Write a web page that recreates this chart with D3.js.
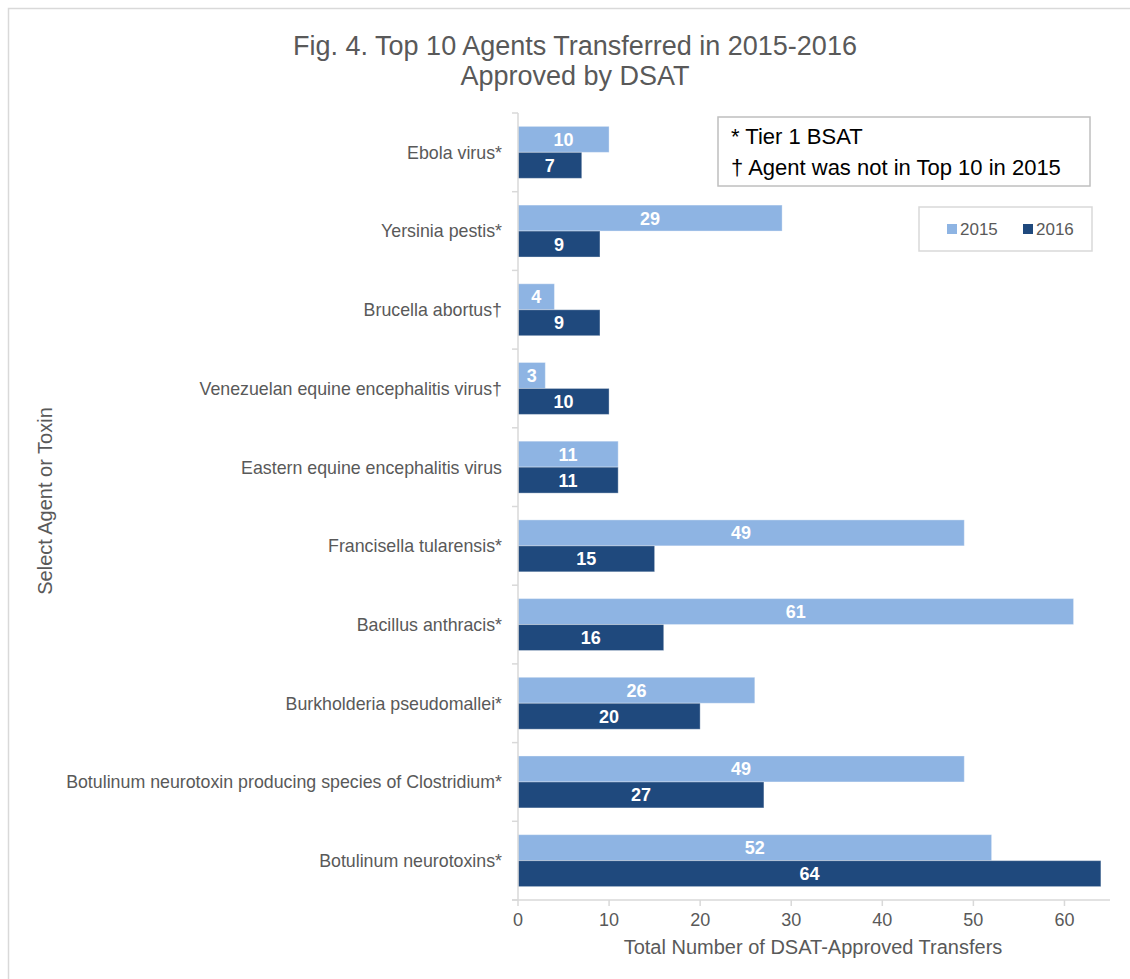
<!DOCTYPE html>
<html>
<head>
<meta charset="utf-8">
<script src="https://cdn.jsdelivr.net/npm/d3@7"></script>
<style>
    body { margin: 0; background: #fff; }
    svg text { font-family: "Liberation Sans", Arial, sans-serif; }
</style>
</head>
<body>
<svg id="chart" width="1130" height="979"></svg>
<script>
// agents, top to bottom
var agents = [
    'Ebola virus*',
    'Yersinia pestis*',
    'Brucella abortus\u2020',
    'Venezuelan equine encephalitis virus\u2020',
    'Eastern equine encephalitis virus',
    'Francisella tularensis*',
    'Bacillus anthracis*',
    'Burkholderia pseudomallei*',
    'Botulinum neurotoxin producing species of Clostridium*',
    'Botulinum neurotoxins*'
];
var years = ['2015', '2016'];
var values2015 = [10, 29, 4, 3, 11, 49, 61, 26, 49, 52];
var values2016 = [7, 9, 9, 10, 11, 15, 16, 20, 27, 64];
var xTicks = [0, 10, 20, 30, 40, 50, 60];
var notes = ['* Tier 1 BSAT', '\u2020 Agent was not in Top 10 in 2015'];

var colors = { '2015': '#8eb4e3', '2016': '#1f497d' };
var axisColor = '#d9d9d9',
    textColor = '#595959';

var svg = d3.select('#chart');

// outer frame of the chart area
svg.append('rect')
    .attr('x', 8.5).attr('y', 8.5)
    .attr('width', 1140).attr('height', 990)
    .attr('fill', 'none')
    .attr('stroke', '#d9d9d9')
    .attr('stroke-width', 1.5);

var plot = { left: 518, right: 1110, top: 113, bottom: 900 };

var x = d3.scaleLinear().domain([0, 65]).range([plot.left, plot.right]);
var y = d3.scaleBand().domain(agents).range([plot.top, plot.bottom])
    .paddingInner(0.34).paddingOuter(0.17);
var ySub = d3.scaleBand().domain(years).range([0, y.bandwidth()]);

// title
svg.append('text')
    .attr('text-anchor', 'middle')
    .attr('fill', textColor)
    .style('font-size', '27px')
    .selectAll('tspan')
    .data(['Fig. 4. Top 10 Agents Transferred in 2015-2016', 'Approved by DSAT'])
    .enter().append('tspan')
    .attr('x', 575)
    .attr('y', function(d, i) { return 55 + i * 30; })
    .text(function(d) { return d; });

// bars
var rows = agents.map(function(a, i) {
    return { agent: a, values: [
        { year: '2015', value: values2015[i] },
        { year: '2016', value: values2016[i] }
    ]};
});

var groups = svg.selectAll('.group').data(rows).enter().append('g')
    .attr('class', 'group')
    .attr('transform', function(d) { return 'translate(0,' + y(d.agent) + ')'; });

groups.selectAll('rect').data(function(d) { return d.values; }).enter().append('rect')
    .attr('x', x(0))
    .attr('y', function(d) { return ySub(d.year); })
    .attr('width', function(d) { return x(d.value) - x(0); })
    .attr('height', ySub.bandwidth())
    .attr('fill', function(d) { return colors[d.year]; })
    .attr('stroke', 'rgba(255,255,255,0.35)')
    .attr('stroke-width', 1);

groups.selectAll('.val').data(function(d) { return d.values; }).enter().append('text')
    .attr('class', 'val')
    .attr('x', function(d) { return (x(0) + x(d.value)) / 2; })
    .attr('y', function(d) { return ySub(d.year) + ySub.bandwidth() / 2; })
    .attr('dy', '0.36em')
    .attr('text-anchor', 'middle')
    .attr('fill', '#fff')
    .style('font-size', '18px')
    .style('font-weight', 'bold')
    .text(function(d) { return d.value; });

// y axis: line, ticks between categories, labels
svg.append('line')
    .attr('x1', plot.left).attr('x2', plot.left)
    .attr('y1', plot.top).attr('y2', plot.bottom)
    .attr('stroke', axisColor).attr('stroke-width', 1.5);

var step = y.step();
svg.selectAll('.ytick').data(d3.range(agents.length + 1)).enter().append('line')
    .attr('class', 'ytick')
    .attr('x1', plot.left - 6).attr('x2', plot.left)
    .attr('y1', function(i) { return plot.top + i * step; })
    .attr('y2', function(i) { return plot.top + i * step; })
    .attr('stroke', axisColor).attr('stroke-width', 1.5);

svg.selectAll('.ylabel').data(agents).enter().append('text')
    .attr('class', 'ylabel')
    .attr('x', 502)
    .attr('y', function(d) { return y(d) + y.bandwidth() / 2; })
    .attr('dy', '0.36em')
    .attr('text-anchor', 'end')
    .attr('fill', textColor)
    .style('font-size', '17.8px')
    .text(function(d) { return d; });

// x axis
svg.append('line')
    .attr('x1', plot.left - 6).attr('x2', plot.right)
    .attr('y1', plot.bottom).attr('y2', plot.bottom)
    .attr('stroke', axisColor).attr('stroke-width', 1.5);

svg.selectAll('.xtick').data(xTicks).enter().append('line')
    .attr('class', 'xtick')
    .attr('x1', function(d) { return x(d); }).attr('x2', function(d) { return x(d); })
    .attr('y1', plot.bottom).attr('y2', plot.bottom + 6)
    .attr('stroke', axisColor).attr('stroke-width', 1.5);

svg.selectAll('.xlabel').data(xTicks).enter().append('text')
    .attr('class', 'xlabel')
    .attr('x', function(d) { return x(d); })
    .attr('y', 926)
    .attr('text-anchor', 'middle')
    .attr('fill', textColor)
    .style('font-size', '18px')
    .text(function(d) { return d; });

// axis titles
svg.append('text')
    .attr('x', 813).attr('y', 954)
    .attr('text-anchor', 'middle')
    .attr('fill', textColor)
    .style('font-size', '20px')
    .text('Total Number of DSAT-Approved Transfers');

svg.append('text')
    .attr('transform', 'translate(52,501) rotate(-90)')
    .attr('text-anchor', 'middle')
    .attr('fill', textColor)
    .style('font-size', '20px')
    .text('Select Agent or Toxin');

// notes box
svg.append('rect')
    .attr('x', 718).attr('y', 117)
    .attr('width', 372).attr('height', 69)
    .attr('fill', '#fff')
    .attr('stroke', '#bfbfbf').attr('stroke-width', 1.5);

svg.selectAll('.note').data(notes).enter().append('text')
    .attr('class', 'note')
    .attr('x', 731)
    .attr('y', function(d, i) { return 144 + i * 31; })
    .attr('fill', '#000')
    .style('font-size', '22px')
    .text(function(d) { return d; });

// legend
svg.append('rect')
    .attr('x', 919).attr('y', 207)
    .attr('width', 173).attr('height', 44)
    .attr('fill', '#fff')
    .attr('stroke', '#d9d9d9').attr('stroke-width', 1.5);

var legend = svg.selectAll('.legend').data(years).enter().append('g')
    .attr('class', 'legend')
    .attr('transform', function(d, i) { return 'translate(' + (947 + i * 76) + ',229)'; });

legend.append('rect')
    .attr('x', 0).attr('y', -5)
    .attr('width', 10).attr('height', 10)
    .attr('fill', function(d) { return colors[d]; });

legend.append('text')
    .attr('x', 13).attr('y', 0)
    .attr('dy', '0.36em')
    .attr('fill', textColor)
    .style('font-size', '17px')
    .text(function(d) { return d; });
</script>
</body>
</html>
